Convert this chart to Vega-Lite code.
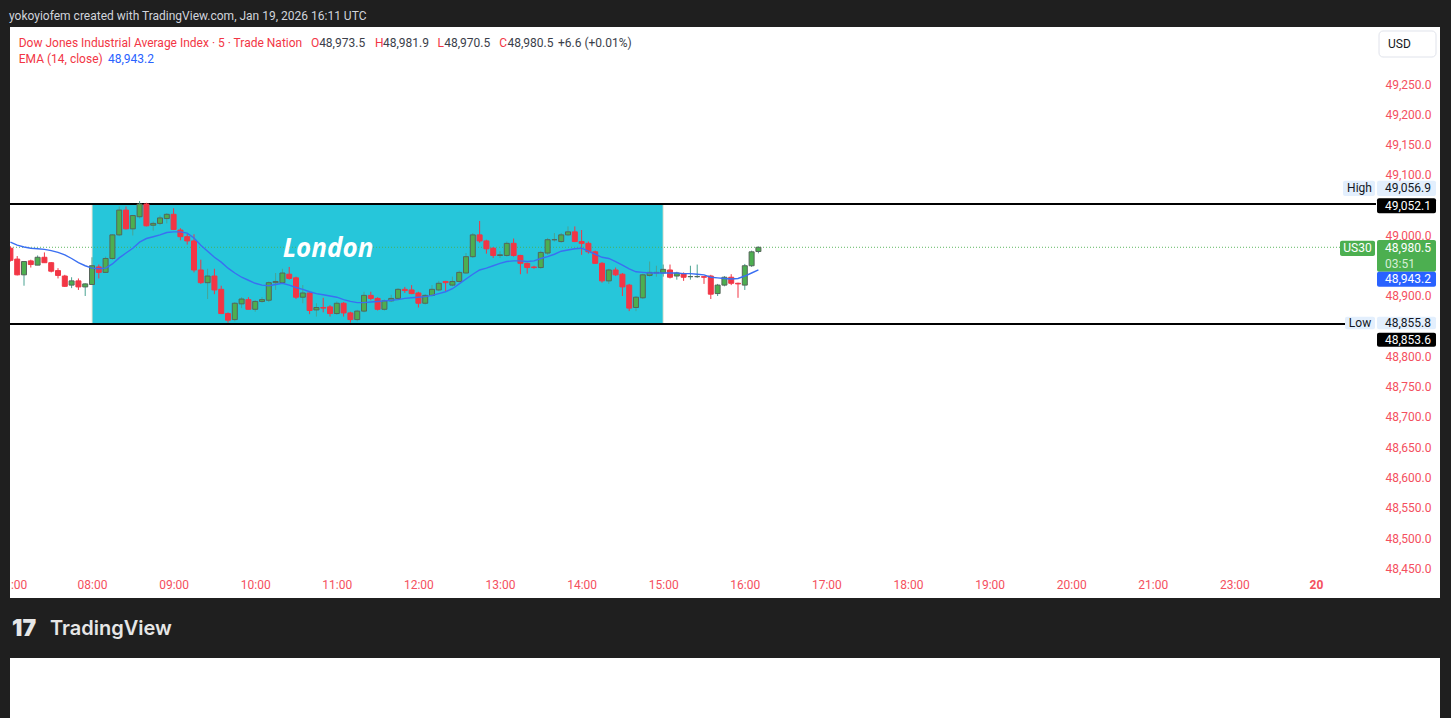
{
  "$schema": "https://vega.github.io/schema/vega-lite/v6.json",
  "autosize": {"type": "none"},
  "padding": {"left": 10, "top": 27, "right": 11, "bottom": 0},
  "background": "#1f1f1f",
  "width": 1430,
  "height": 691,
  "title": {"text": "yokoyiofem created with TradingView.com, Jan 19, 2026 16:11 UTC", "anchor": "start", "color": "#d1d4dc", "font": "Roboto", "fontSize": 12, "fontWeight": "normal", "offset": 4},
  "config": {"font": "Roboto", "axis": {"domain": false, "ticks": false, "grid": false, "labelFont": "Roboto", "labelFontSize": 12, "labelColor": "#f4505e"}},
  "view": {"fill": "white", "stroke": null},
  "datasets": {
    "bars": [
      {"t": "2026-01-19T07:00:00Z", "o": 48979, "h": 48982, "l": 48957, "c": 48959, "e": 48989},
      {"t": "2026-01-19T07:05:00Z", "o": 48961, "h": 48966, "l": 48934, "c": 48935, "e": 48984},
      {"t": "2026-01-19T07:10:00Z", "o": 48935, "h": 48957, "l": 48917, "c": 48957, "e": 48981},
      {"t": "2026-01-19T07:15:00Z", "o": 48958, "h": 48960, "l": 48947, "c": 48952, "e": 48979},
      {"t": "2026-01-19T07:20:00Z", "o": 48951, "h": 48967, "l": 48951, "c": 48964, "e": 48978},
      {"t": "2026-01-19T07:25:00Z", "o": 48964, "h": 48972, "l": 48955, "c": 48955, "e": 48977},
      {"t": "2026-01-19T07:30:00Z", "o": 48955, "h": 48956, "l": 48939, "c": 48941, "e": 48975},
      {"t": "2026-01-19T07:35:00Z", "o": 48942, "h": 48946, "l": 48929, "c": 48934, "e": 48972},
      {"t": "2026-01-19T07:40:00Z", "o": 48933, "h": 48935, "l": 48915, "c": 48916, "e": 48968},
      {"t": "2026-01-19T07:45:00Z", "o": 48918, "h": 48931, "l": 48913, "c": 48925, "e": 48962},
      {"t": "2026-01-19T07:50:00Z", "o": 48925, "h": 48929, "l": 48910, "c": 48915, "e": 48955},
      {"t": "2026-01-19T07:55:00Z", "o": 48915, "h": 48921, "l": 48900, "c": 48920, "e": 48950},
      {"t": "2026-01-19T08:00:00Z", "o": 48919, "h": 48964, "l": 48919, "c": 48950, "e": 48946},
      {"t": "2026-01-19T08:05:00Z", "o": 48948, "h": 48952, "l": 48929, "c": 48939, "e": 48945},
      {"t": "2026-01-19T08:10:00Z", "o": 48939, "h": 48965, "l": 48938, "c": 48962, "e": 48946},
      {"t": "2026-01-19T08:15:00Z", "o": 48962, "h": 49002, "l": 48960, "c": 49001, "e": 48953},
      {"t": "2026-01-19T08:20:00Z", "o": 49001, "h": 49048, "l": 48999, "c": 49042, "e": 48963},
      {"t": "2026-01-19T08:25:00Z", "o": 49042, "h": 49048, "l": 49010, "c": 49011, "e": 48971},
      {"t": "2026-01-19T08:30:00Z", "o": 49011, "h": 49034, "l": 49000, "c": 49033, "e": 48979},
      {"t": "2026-01-19T08:35:00Z", "o": 49031, "h": 49056.9, "l": 49028, "c": 49052, "e": 48989},
      {"t": "2026-01-19T08:40:00Z", "o": 49052, "h": 49054, "l": 49015, "c": 49016, "e": 48995},
      {"t": "2026-01-19T08:45:00Z", "o": 49017, "h": 49023, "l": 49008, "c": 49020, "e": 48998},
      {"t": "2026-01-19T08:50:00Z", "o": 49020, "h": 49033, "l": 49017, "c": 49029, "e": 49001},
      {"t": "2026-01-19T08:55:00Z", "o": 49028, "h": 49037, "l": 49020, "c": 49035, "e": 49005},
      {"t": "2026-01-19T09:00:00Z", "o": 49035, "h": 49045, "l": 49009, "c": 49010, "e": 49006},
      {"t": "2026-01-19T09:05:00Z", "o": 49009, "h": 49012, "l": 48992, "c": 48998, "e": 49006},
      {"t": "2026-01-19T09:10:00Z", "o": 48998, "h": 49003, "l": 48985, "c": 48991, "e": 49004},
      {"t": "2026-01-19T09:15:00Z", "o": 48991, "h": 49002, "l": 48939, "c": 48943, "e": 48996},
      {"t": "2026-01-19T09:20:00Z", "o": 48943, "h": 48960, "l": 48920, "c": 48922, "e": 48984},
      {"t": "2026-01-19T09:25:00Z", "o": 48922, "h": 48945, "l": 48895, "c": 48933, "e": 48974},
      {"t": "2026-01-19T09:30:00Z", "o": 48933, "h": 48945, "l": 48903, "c": 48910, "e": 48964},
      {"t": "2026-01-19T09:35:00Z", "o": 48911, "h": 48917, "l": 48870, "c": 48871, "e": 48956},
      {"t": "2026-01-19T09:40:00Z", "o": 48871, "h": 48873, "l": 48855.8, "c": 48860, "e": 48946},
      {"t": "2026-01-19T09:45:00Z", "o": 48861, "h": 48890, "l": 48858, "c": 48888, "e": 48938},
      {"t": "2026-01-19T09:50:00Z", "o": 48887, "h": 48898, "l": 48880, "c": 48895, "e": 48931},
      {"t": "2026-01-19T09:55:00Z", "o": 48894, "h": 48898, "l": 48878, "c": 48878, "e": 48926},
      {"t": "2026-01-19T10:00:00Z", "o": 48878, "h": 48893, "l": 48874, "c": 48891, "e": 48921},
      {"t": "2026-01-19T10:05:00Z", "o": 48891, "h": 48898, "l": 48889, "c": 48894, "e": 48918},
      {"t": "2026-01-19T10:10:00Z", "o": 48893, "h": 48924, "l": 48890, "c": 48922, "e": 48917},
      {"t": "2026-01-19T10:15:00Z", "o": 48922, "h": 48938, "l": 48910, "c": 48924, "e": 48919},
      {"t": "2026-01-19T10:20:00Z", "o": 48922, "h": 48945, "l": 48920, "c": 48938, "e": 48921},
      {"t": "2026-01-19T10:25:00Z", "o": 48936, "h": 48948, "l": 48927, "c": 48929, "e": 48918},
      {"t": "2026-01-19T10:30:00Z", "o": 48930, "h": 48932, "l": 48895, "c": 48898, "e": 48914},
      {"t": "2026-01-19T10:35:00Z", "o": 48898, "h": 48918, "l": 48888, "c": 48905, "e": 48911},
      {"t": "2026-01-19T10:40:00Z", "o": 48905, "h": 48907, "l": 48870, "c": 48876, "e": 48907},
      {"t": "2026-01-19T10:45:00Z", "o": 48877, "h": 48888, "l": 48866, "c": 48881, "e": 48904},
      {"t": "2026-01-19T10:50:00Z", "o": 48881, "h": 48897, "l": 48873, "c": 48880, "e": 48902},
      {"t": "2026-01-19T10:55:00Z", "o": 48882, "h": 48885, "l": 48866, "c": 48871, "e": 48900},
      {"t": "2026-01-19T11:00:00Z", "o": 48871, "h": 48891, "l": 48869, "c": 48888, "e": 48898},
      {"t": "2026-01-19T11:05:00Z", "o": 48888, "h": 48890, "l": 48866, "c": 48872, "e": 48894},
      {"t": "2026-01-19T11:10:00Z", "o": 48872, "h": 48874, "l": 48856, "c": 48861, "e": 48891},
      {"t": "2026-01-19T11:15:00Z", "o": 48861, "h": 48877, "l": 48858, "c": 48875, "e": 48889},
      {"t": "2026-01-19T11:20:00Z", "o": 48875, "h": 48907, "l": 48873, "c": 48901, "e": 48889},
      {"t": "2026-01-19T11:25:00Z", "o": 48901, "h": 48907, "l": 48893, "c": 48896, "e": 48890},
      {"t": "2026-01-19T11:30:00Z", "o": 48896, "h": 48898, "l": 48876, "c": 48878, "e": 48891},
      {"t": "2026-01-19T11:35:00Z", "o": 48878, "h": 48894, "l": 48876, "c": 48892, "e": 48892},
      {"t": "2026-01-19T11:40:00Z", "o": 48892, "h": 48902, "l": 48890, "c": 48896, "e": 48893},
      {"t": "2026-01-19T11:45:00Z", "o": 48896, "h": 48913, "l": 48894, "c": 48911, "e": 48894},
      {"t": "2026-01-19T11:50:00Z", "o": 48911, "h": 48915, "l": 48905, "c": 48909, "e": 48896},
      {"t": "2026-01-19T11:55:00Z", "o": 48910, "h": 48918, "l": 48903, "c": 48904, "e": 48897},
      {"t": "2026-01-19T12:00:00Z", "o": 48905, "h": 48907, "l": 48881, "c": 48888, "e": 48898},
      {"t": "2026-01-19T12:05:00Z", "o": 48888, "h": 48903, "l": 48886, "c": 48901, "e": 48899},
      {"t": "2026-01-19T12:10:00Z", "o": 48901, "h": 48918, "l": 48899, "c": 48911, "e": 48901},
      {"t": "2026-01-19T12:15:00Z", "o": 48910, "h": 48925, "l": 48908, "c": 48921, "e": 48904},
      {"t": "2026-01-19T12:20:00Z", "o": 48924, "h": 48925, "l": 48908, "c": 48922, "e": 48907},
      {"t": "2026-01-19T12:25:00Z", "o": 48918, "h": 48932, "l": 48916, "c": 48924, "e": 48912},
      {"t": "2026-01-19T12:30:00Z", "o": 48924, "h": 48942, "l": 48922, "c": 48939, "e": 48920},
      {"t": "2026-01-19T12:35:00Z", "o": 48938, "h": 48971, "l": 48937, "c": 48965, "e": 48928},
      {"t": "2026-01-19T12:40:00Z", "o": 48965, "h": 49004, "l": 48963, "c": 49001, "e": 48936},
      {"t": "2026-01-19T12:45:00Z", "o": 49001, "h": 49024, "l": 48988, "c": 48991, "e": 48943},
      {"t": "2026-01-19T12:50:00Z", "o": 48991, "h": 48993, "l": 48970, "c": 48978, "e": 48946},
      {"t": "2026-01-19T12:55:00Z", "o": 48979, "h": 48981, "l": 48963, "c": 48967, "e": 48950},
      {"t": "2026-01-19T13:00:00Z", "o": 48967, "h": 48974, "l": 48963, "c": 48968, "e": 48954},
      {"t": "2026-01-19T13:05:00Z", "o": 48967, "h": 48990, "l": 48965, "c": 48987, "e": 48957},
      {"t": "2026-01-19T13:10:00Z", "o": 48987, "h": 48995, "l": 48965, "c": 48967, "e": 48958},
      {"t": "2026-01-19T13:15:00Z", "o": 48967, "h": 48968, "l": 48936, "c": 48954, "e": 48958},
      {"t": "2026-01-19T13:20:00Z", "o": 48954, "h": 48955, "l": 48937, "c": 48947, "e": 48957},
      {"t": "2026-01-19T13:25:00Z", "o": 48948, "h": 48950, "l": 48945, "c": 48947, "e": 48958},
      {"t": "2026-01-19T13:30:00Z", "o": 48947, "h": 48975, "l": 48945, "c": 48972, "e": 48962},
      {"t": "2026-01-19T13:35:00Z", "o": 48971, "h": 48996, "l": 48968, "c": 48993, "e": 48965},
      {"t": "2026-01-19T13:40:00Z", "o": 48993, "h": 49004, "l": 48990, "c": 48993, "e": 48969},
      {"t": "2026-01-19T13:45:00Z", "o": 48990, "h": 49004, "l": 48988, "c": 49001, "e": 48974},
      {"t": "2026-01-19T13:50:00Z", "o": 49001, "h": 49015, "l": 48999, "c": 49006, "e": 48976},
      {"t": "2026-01-19T13:55:00Z", "o": 49006, "h": 49015, "l": 48989, "c": 48990, "e": 48978},
      {"t": "2026-01-19T14:00:00Z", "o": 48990, "h": 49009, "l": 48968, "c": 48987, "e": 48979},
      {"t": "2026-01-19T14:05:00Z", "o": 48987, "h": 48990, "l": 48970, "c": 48973, "e": 48974},
      {"t": "2026-01-19T14:10:00Z", "o": 48973, "h": 48975, "l": 48953, "c": 48954, "e": 48969},
      {"t": "2026-01-19T14:15:00Z", "o": 48954, "h": 48956, "l": 48922, "c": 48925, "e": 48964},
      {"t": "2026-01-19T14:20:00Z", "o": 48925, "h": 48945, "l": 48920, "c": 48943, "e": 48962},
      {"t": "2026-01-19T14:25:00Z", "o": 48943, "h": 48947, "l": 48933, "c": 48935, "e": 48957},
      {"t": "2026-01-19T14:30:00Z", "o": 48936, "h": 48938, "l": 48900, "c": 48915, "e": 48951},
      {"t": "2026-01-19T14:35:00Z", "o": 48918, "h": 48920, "l": 48875, "c": 48880, "e": 48945},
      {"t": "2026-01-19T14:40:00Z", "o": 48881, "h": 48900, "l": 48875, "c": 48898, "e": 48940},
      {"t": "2026-01-19T14:45:00Z", "o": 48897, "h": 48937, "l": 48895, "c": 48935, "e": 48939},
      {"t": "2026-01-19T14:50:00Z", "o": 48934, "h": 48957, "l": 48932, "c": 48939, "e": 48938},
      {"t": "2026-01-19T14:55:00Z", "o": 48938, "h": 48950, "l": 48932, "c": 48939, "e": 48938},
      {"t": "2026-01-19T15:00:00Z", "o": 48938, "h": 48952, "l": 48932, "c": 48944, "e": 48938},
      {"t": "2026-01-19T15:05:00Z", "o": 48943, "h": 48952, "l": 48929, "c": 48931, "e": 48938},
      {"t": "2026-01-19T15:10:00Z", "o": 48933, "h": 48940, "l": 48927, "c": 48938, "e": 48938},
      {"t": "2026-01-19T15:15:00Z", "o": 48937, "h": 48939, "l": 48925, "c": 48931, "e": 48937},
      {"t": "2026-01-19T15:20:00Z", "o": 48932, "h": 48950, "l": 48927, "c": 48932, "e": 48937},
      {"t": "2026-01-19T15:25:00Z", "o": 48932, "h": 48952, "l": 48930, "c": 48932, "e": 48936},
      {"t": "2026-01-19T15:30:00Z", "o": 48932, "h": 48933, "l": 48920, "c": 48931, "e": 48935},
      {"t": "2026-01-19T15:35:00Z", "o": 48933, "h": 48935, "l": 48895, "c": 48903, "e": 48931},
      {"t": "2026-01-19T15:40:00Z", "o": 48904, "h": 48920, "l": 48900, "c": 48918, "e": 48930},
      {"t": "2026-01-19T15:45:00Z", "o": 48918, "h": 48933, "l": 48916, "c": 48931, "e": 48929},
      {"t": "2026-01-19T15:50:00Z", "o": 48931, "h": 48936, "l": 48918, "c": 48921, "e": 48928},
      {"t": "2026-01-19T15:55:00Z", "o": 48921, "h": 48922, "l": 48897, "c": 48920, "e": 48929},
      {"t": "2026-01-19T16:00:00Z", "o": 48918, "h": 48953, "l": 48910, "c": 48950, "e": 48933},
      {"t": "2026-01-19T16:05:00Z", "o": 48950, "h": 48975, "l": 48948, "c": 48973, "e": 48938},
      {"t": "2026-01-19T16:10:00Z", "o": 48973.5, "h": 48981.9, "l": 48970.5, "c": 48980.5, "e": 48943.2}
    ]
  },
  "data": {"values": [{}]},
  "layer": [
    {
      "mark": {"type": "rect", "color": "#1f1f1f"},
      "encoding": {
        "x": {"datum": {"year": 2026, "month": 1, "date": 19, "hours": 6, "minutes": 59, "seconds": 42, "utc": true}, "type": "temporal", "scale": {"type": "utc"}},
        "x2": {"datum": {"year": 2026, "month": 1, "date": 20, "hours": 0, "minutes": 31, "seconds": 10, "utc": true}},
        "y": {"datum": 48400.8, "type": "quantitative"},
        "y2": {"datum": 48301.6}
      }
    },
    {
      "mark": {"type": "rect", "color": "#26c6da", "stroke": "#f3e6d3", "strokeWidth": 1},
      "encoding": {
        "x": {"datum": {"year": 2026, "month": 1, "date": 19, "hours": 8, "minutes": 0, "seconds": 0, "utc": true}, "type": "temporal", "scale": {"type": "utc"}},
        "x2": {"datum": {"year": 2026, "month": 1, "date": 19, "hours": 15, "minutes": 0, "seconds": 0, "utc": true}},
        "y": {"datum": 49052.1, "type": "quantitative"},
        "y2": {"datum": 48853.6}
      }
    },
    {
      "mark": {"type": "rule", "color": "#000000", "strokeWidth": 2},
      "encoding": {
        "x": {"datum": {"year": 2026, "month": 1, "date": 19, "hours": 6, "minutes": 59, "seconds": 42, "utc": true}, "type": "temporal", "scale": {"type": "utc"}},
        "x2": {"datum": {"year": 2026, "month": 1, "date": 19, "hours": 23, "minutes": 44, "seconds": 6, "utc": true}},
        "y": {"datum": 49052.1, "type": "quantitative"}
      }
    },
    {
      "mark": {"type": "rule", "color": "#000000", "strokeWidth": 2},
      "encoding": {
        "x": {"datum": {"year": 2026, "month": 1, "date": 19, "hours": 6, "minutes": 59, "seconds": 42, "utc": true}, "type": "temporal", "scale": {"type": "utc"}},
        "x2": {"datum": {"year": 2026, "month": 1, "date": 19, "hours": 23, "minutes": 21, "seconds": 19, "utc": true}},
        "y": {"datum": 48853.6, "type": "quantitative"}
      }
    },
    {
      "mark": {"type": "rule", "color": "#4caf50", "strokeWidth": 1, "strokeDash": [1, 2], "opacity": 0.9},
      "encoding": {
        "x": {"datum": {"year": 2026, "month": 1, "date": 19, "hours": 6, "minutes": 59, "seconds": 42, "utc": true}, "type": "temporal", "scale": {"type": "utc"}},
        "x2": {"datum": {"year": 2026, "month": 1, "date": 19, "hours": 23, "minutes": 17, "seconds": 39, "utc": true}},
        "y": {"datum": 48980.5, "type": "quantitative"}
      }
    },
    {
      "data": {"name": "bars"},
      "mark": {"type": "rule", "strokeWidth": 1, "clip": true},
      "encoding": {
        "x": {
          "field": "t", "type": "temporal", "title": null,
          "scale": {"type": "utc", "nice": false, "padding": 0, "domain": [
            {"year": 2026, "month": 1, "date": 19, "hours": 6, "minutes": 59, "seconds": 42, "utc": true},
            {"year": 2026, "month": 1, "date": 20, "hours": 0, "minutes": 31, "seconds": 10, "utc": true}
          ]},
          "axis": {
            "orient": "bottom", "offset": -148, "domain": false, "ticks": false, "grid": false, "title": null,
            "values": [
              {"year": 2026, "month": 1, "date": 19, "hours": 7, "utc": true},
              {"year": 2026, "month": 1, "date": 19, "hours": 8, "utc": true},
              {"year": 2026, "month": 1, "date": 19, "hours": 9, "utc": true},
              {"year": 2026, "month": 1, "date": 19, "hours": 10, "utc": true},
              {"year": 2026, "month": 1, "date": 19, "hours": 11, "utc": true},
              {"year": 2026, "month": 1, "date": 19, "hours": 12, "utc": true},
              {"year": 2026, "month": 1, "date": 19, "hours": 13, "utc": true},
              {"year": 2026, "month": 1, "date": 19, "hours": 14, "utc": true},
              {"year": 2026, "month": 1, "date": 19, "hours": 15, "utc": true},
              {"year": 2026, "month": 1, "date": 19, "hours": 16, "utc": true},
              {"year": 2026, "month": 1, "date": 19, "hours": 17, "utc": true},
              {"year": 2026, "month": 1, "date": 19, "hours": 18, "utc": true},
              {"year": 2026, "month": 1, "date": 19, "hours": 19, "utc": true},
              {"year": 2026, "month": 1, "date": 19, "hours": 20, "utc": true},
              {"year": 2026, "month": 1, "date": 19, "hours": 21, "utc": true},
              {"year": 2026, "month": 1, "date": 19, "hours": 22, "utc": true},
              {"year": 2026, "month": 1, "date": 19, "hours": 23, "utc": true}
            ],
            "labelExpr": "utchours(datum.value) == 22 ? '23:00' : utchours(datum.value) == 23 ? '20' : utchours(datum.value) == 7 ? ':00' : utcFormat(datum.value, '%H:%M')",
            "labelAlign": {"condition": {"test": "utchours(datum.value) == 7", "value": "left"}, "value": "center"},
            "labelFontWeight": {"condition": {"test": "utchours(datum.value) == 23", "value": "bold"}, "value": "normal"},
            "labelPadding": 9, "labelFlush": false, "labelOverlap": false, "labelBound": false,
            "labelColor": "#f4505e", "labelFont": "Roboto", "labelFontSize": 12
          }
        },
        "y": {
          "field": "l", "type": "quantitative", "title": null,
          "scale": {"domain": [48202.5, 49344.6], "nice": false, "zero": false},
          "axis": {
            "orient": "right", "offset": -65, "domain": false, "ticks": false, "grid": false, "title": null,
            "values": [48450, 48500, 48550, 48600, 48650, 48700, 48750, 48800, 48900, 49000, 49100, 49150, 49200, 49250],
            "format": ",.1f", "labelAlign": "right", "labelPadding": 56, "labelOverlap": false, "labelBound": false, "labelFlush": false,
            "labelColor": "#f4505e", "labelFont": "Roboto", "labelFontSize": 12
          }
        },
        "y2": {"field": "h"},
        "color": {"condition": {"test": "datum.c >= datum.o", "value": "#4aa392"}, "value": "#f23645"}
      }
    },
    {
      "data": {"name": "bars"},
      "mark": {"type": "bar", "width": 5, "strokeWidth": 1, "clip": true},
      "encoding": {
        "x": {"field": "t", "type": "temporal", "scale": {"type": "utc"}},
        "y": {"field": "o", "type": "quantitative"},
        "y2": {"field": "c"},
        "fill": {"condition": {"test": "datum.c >= datum.o", "value": "#4caf50"}, "value": "#f23645"},
        "stroke": {"condition": {"test": "datum.c >= datum.o", "value": "#56665a"}, "value": "#f23645"}
      }
    },
    {
      "data": {"name": "bars"},
      "mark": {"type": "line", "color": "#3a6ff2", "strokeWidth": 1.4, "clip": true},
      "encoding": {
        "x": {"field": "t", "type": "temporal", "scale": {"type": "utc"}},
        "y": {"field": "e", "type": "quantitative"}
      }
    },
    {
      "mark": {"type": "text", "text": "London", "font": "Open Sans", "fontSize": 26, "fontWeight": "bold", "fontStyle": "italic", "color": "#ffffff", "align": "center", "baseline": "middle"},
      "encoding": {
        "x": {"datum": {"year": 2026, "month": 1, "date": 19, "hours": 10, "minutes": 53, "seconds": 32, "utc": true}, "type": "temporal", "scale": {"type": "utc"}},
        "y": {"datum": 48977.7, "type": "quantitative"}
      }
    },
    {
      "mark": {"type": "text", "text": "Dow Jones Industrial Average Index · 5 · Trade Nation", "font": "Roboto", "fontSize": 12, "color": "#f23645", "align": "left", "baseline": "middle"},
      "encoding": {
        "x": {"datum": {"year": 2026, "month": 1, "date": 19, "hours": 7, "minutes": 6, "seconds": 8, "utc": true}, "type": "temporal", "scale": {"type": "utc"}},
        "y": {"datum": 49318.2, "type": "quantitative"}
      }
    },
    {
      "mark": {"type": "text", "text": "O", "font": "Roboto", "fontSize": 12, "color": "#f23645", "align": "left", "baseline": "middle"},
      "encoding": {
        "x": {"datum": {"year": 2026, "month": 1, "date": 19, "hours": 10, "minutes": 41, "seconds": 0, "utc": true}, "type": "temporal", "scale": {"type": "utc"}},
        "y": {"datum": 49318.2, "type": "quantitative"}
      }
    },
    {
      "mark": {"type": "text", "text": "48,973.5", "font": "Roboto", "fontSize": 12, "color": "#3a3e4a", "align": "left", "baseline": "middle"},
      "encoding": {
        "x": {"datum": {"year": 2026, "month": 1, "date": 19, "hours": 10, "minutes": 47, "seconds": 0, "utc": true}, "type": "temporal", "scale": {"type": "utc"}},
        "y": {"datum": 49318.2, "type": "quantitative"}
      }
    },
    {
      "mark": {"type": "text", "text": "H", "font": "Roboto", "fontSize": 12, "color": "#f23645", "align": "left", "baseline": "middle"},
      "encoding": {
        "x": {"datum": {"year": 2026, "month": 1, "date": 19, "hours": 11, "minutes": 28, "seconds": 5, "utc": true}, "type": "temporal", "scale": {"type": "utc"}},
        "y": {"datum": 49318.2, "type": "quantitative"}
      }
    },
    {
      "mark": {"type": "text", "text": "48,981.9", "font": "Roboto", "fontSize": 12, "color": "#3a3e4a", "align": "left", "baseline": "middle"},
      "encoding": {
        "x": {"datum": {"year": 2026, "month": 1, "date": 19, "hours": 11, "minutes": 33, "seconds": 58, "utc": true}, "type": "temporal", "scale": {"type": "utc"}},
        "y": {"datum": 49318.2, "type": "quantitative"}
      }
    },
    {
      "mark": {"type": "text", "text": "L", "font": "Roboto", "fontSize": 12, "color": "#f23645", "align": "left", "baseline": "middle"},
      "encoding": {
        "x": {"datum": {"year": 2026, "month": 1, "date": 19, "hours": 12, "minutes": 14, "seconds": 0, "utc": true}, "type": "temporal", "scale": {"type": "utc"}},
        "y": {"datum": 49318.2, "type": "quantitative"}
      }
    },
    {
      "mark": {"type": "text", "text": "48,970.5", "font": "Roboto", "fontSize": 12, "color": "#3a3e4a", "align": "left", "baseline": "middle"},
      "encoding": {
        "x": {"datum": {"year": 2026, "month": 1, "date": 19, "hours": 12, "minutes": 19, "seconds": 0, "utc": true}, "type": "temporal", "scale": {"type": "utc"}},
        "y": {"datum": 49318.2, "type": "quantitative"}
      }
    },
    {
      "mark": {"type": "text", "text": "C", "font": "Roboto", "fontSize": 12, "color": "#f23645", "align": "left", "baseline": "middle"},
      "encoding": {
        "x": {"datum": {"year": 2026, "month": 1, "date": 19, "hours": 12, "minutes": 59, "seconds": 30, "utc": true}, "type": "temporal", "scale": {"type": "utc"}},
        "y": {"datum": 49318.2, "type": "quantitative"}
      }
    },
    {
      "mark": {"type": "text", "text": "48,980.5", "font": "Roboto", "fontSize": 12, "color": "#3a3e4a", "align": "left", "baseline": "middle"},
      "encoding": {
        "x": {"datum": {"year": 2026, "month": 1, "date": 19, "hours": 13, "minutes": 5, "seconds": 30, "utc": true}, "type": "temporal", "scale": {"type": "utc"}},
        "y": {"datum": 49318.2, "type": "quantitative"}
      }
    },
    {
      "mark": {"type": "text", "text": "+6.6 (+0.01%)", "font": "Roboto", "fontSize": 12, "color": "#3a3e4a", "align": "left", "baseline": "middle"},
      "encoding": {
        "x": {"datum": {"year": 2026, "month": 1, "date": 19, "hours": 13, "minutes": 42, "seconds": 39, "utc": true}, "type": "temporal", "scale": {"type": "utc"}},
        "y": {"datum": 49318.2, "type": "quantitative"}
      }
    },
    {
      "mark": {"type": "text", "text": "EMA (14, close)", "font": "Roboto", "fontSize": 12, "color": "#f23645", "align": "left", "baseline": "middle"},
      "encoding": {
        "x": {"datum": {"year": 2026, "month": 1, "date": 19, "hours": 7, "minutes": 6, "seconds": 8, "utc": true}, "type": "temporal", "scale": {"type": "utc"}},
        "y": {"datum": 49291.7, "type": "quantitative"}
      }
    },
    {
      "mark": {"type": "text", "text": "48,943.2", "font": "Roboto", "fontSize": 12, "color": "#2962ff", "align": "left", "baseline": "middle"},
      "encoding": {
        "x": {"datum": {"year": 2026, "month": 1, "date": 19, "hours": 8, "minutes": 11, "seconds": 46, "utc": true}, "type": "temporal", "scale": {"type": "utc"}},
        "y": {"datum": 49291.7, "type": "quantitative"}
      }
    },
    {
      "mark": {"type": "text", "text": "17", "font": "Inter", "fontSize": 23, "fontWeight": 900, "color": "#e6e6e6", "align": "left", "baseline": "middle"},
      "encoding": {
        "x": {"datum": {"year": 2026, "month": 1, "date": 19, "hours": 7, "minutes": 1, "seconds": 11, "utc": true}, "type": "temporal", "scale": {"type": "utc"}},
        "y": {"datum": 48349.6, "type": "quantitative"}
      }
    },
    {
      "mark": {"type": "text", "text": "TradingView", "font": "Inter", "fontSize": 20, "fontWeight": 600, "color": "#e6e6e6", "align": "left", "baseline": "middle"},
      "encoding": {
        "x": {"datum": {"year": 2026, "month": 1, "date": 19, "hours": 7, "minutes": 29, "seconds": 7, "utc": true}, "type": "temporal", "scale": {"type": "utc"}},
        "y": {"datum": 48349.6, "type": "quantitative"}
      }
    },
    {
      "mark": {"type": "rect", "color": "#ffffff", "stroke": "#e0e3eb", "strokeWidth": 1, "cornerRadius": 4},
      "encoding": {
        "x": {"datum": {"year": 2026, "month": 1, "date": 19, "hours": 23, "minutes": 46, "seconds": 20, "utc": true}, "type": "temporal", "scale": {"type": "utc"}},
        "x2": {"datum": {"year": 2026, "month": 1, "date": 20, "hours": 0, "minutes": 28, "seconds": 14, "utc": true}},
        "y": {"datum": 49338, "type": "quantitative"},
        "y2": {"datum": 49295}
      }
    },
    {
      "mark": {"type": "text", "text": "USD", "font": "Roboto", "fontSize": 12, "color": "#131722", "align": "left", "baseline": "middle"},
      "encoding": {
        "x": {"datum": {"year": 2026, "month": 1, "date": 19, "hours": 23, "minutes": 53, "seconds": 0, "utc": true}, "type": "temporal", "scale": {"type": "utc"}},
        "y": {"datum": 49316.5, "type": "quantitative"}
      }
    },
    {
      "mark": {"type": "rect", "color": "#e3effd", "cornerRadius": 2},
      "encoding": {
        "x": {"datum": {"year": 2026, "month": 1, "date": 19, "hours": 23, "minutes": 19, "seconds": 51, "utc": true}, "type": "temporal", "scale": {"type": "utc"}},
        "x2": {"datum": {"year": 2026, "month": 1, "date": 19, "hours": 23, "minutes": 43, "seconds": 23, "utc": true}},
        "y": {"datum": 49090.6, "type": "quantitative"},
        "y2": {"datum": 49065.3}
      }
    },
    {
      "mark": {"type": "rect", "color": "#e3effd", "cornerRadius": 2},
      "encoding": {
        "x": {"datum": {"year": 2026, "month": 1, "date": 19, "hours": 23, "minutes": 44, "seconds": 51, "utc": true}, "type": "temporal", "scale": {"type": "utc"}},
        "x2": {"datum": {"year": 2026, "month": 1, "date": 20, "hours": 0, "minutes": 28, "seconds": 14, "utc": true}},
        "y": {"datum": 49090.6, "type": "quantitative"},
        "y2": {"datum": 49065.3}
      }
    },
    {
      "mark": {"type": "rect", "color": "#000000", "cornerRadius": 2},
      "encoding": {
        "x": {"datum": {"year": 2026, "month": 1, "date": 19, "hours": 23, "minutes": 44, "seconds": 51, "utc": true}, "type": "temporal", "scale": {"type": "utc"}},
        "x2": {"datum": {"year": 2026, "month": 1, "date": 20, "hours": 0, "minutes": 28, "seconds": 14, "utc": true}},
        "y": {"datum": 49061.5, "type": "quantitative"},
        "y2": {"datum": 49036.7}
      }
    },
    {
      "mark": {"type": "rect", "color": "#4caf50", "cornerRadius": 2},
      "encoding": {
        "x": {"datum": {"year": 2026, "month": 1, "date": 19, "hours": 23, "minutes": 17, "seconds": 39, "utc": true}, "type": "temporal", "scale": {"type": "utc"}},
        "x2": {"datum": {"year": 2026, "month": 1, "date": 19, "hours": 23, "minutes": 43, "seconds": 23, "utc": true}},
        "y": {"datum": 48991.4, "type": "quantitative"},
        "y2": {"datum": 48966.1}
      }
    },
    {
      "mark": {"type": "rect", "color": "#4caf50", "cornerRadius": 2},
      "encoding": {
        "x": {"datum": {"year": 2026, "month": 1, "date": 19, "hours": 23, "minutes": 44, "seconds": 51, "utc": true}, "type": "temporal", "scale": {"type": "utc"}},
        "x2": {"datum": {"year": 2026, "month": 1, "date": 20, "hours": 0, "minutes": 28, "seconds": 14, "utc": true}},
        "y": {"datum": 48992.6, "type": "quantitative"},
        "y2": {"datum": 48940.2}
      }
    },
    {
      "mark": {"type": "rect", "color": "#2962ff", "cornerRadius": 2},
      "encoding": {
        "x": {"datum": {"year": 2026, "month": 1, "date": 19, "hours": 23, "minutes": 44, "seconds": 51, "utc": true}, "type": "temporal", "scale": {"type": "utc"}},
        "x2": {"datum": {"year": 2026, "month": 1, "date": 20, "hours": 0, "minutes": 28, "seconds": 14, "utc": true}},
        "y": {"datum": 48940.2, "type": "quantitative"},
        "y2": {"datum": 48915.4}
      }
    },
    {
      "mark": {"type": "rect", "color": "#e3effd", "cornerRadius": 2},
      "encoding": {
        "x": {"datum": {"year": 2026, "month": 1, "date": 19, "hours": 23, "minutes": 21, "seconds": 19, "utc": true}, "type": "temporal", "scale": {"type": "utc"}},
        "x2": {"datum": {"year": 2026, "month": 1, "date": 19, "hours": 23, "minutes": 43, "seconds": 23, "utc": true}},
        "y": {"datum": 48865.8, "type": "quantitative"},
        "y2": {"datum": 48845.0}
      }
    },
    {
      "mark": {"type": "rect", "color": "#e3effd", "cornerRadius": 2},
      "encoding": {
        "x": {"datum": {"year": 2026, "month": 1, "date": 19, "hours": 23, "minutes": 44, "seconds": 51, "utc": true}, "type": "temporal", "scale": {"type": "utc"}},
        "x2": {"datum": {"year": 2026, "month": 1, "date": 20, "hours": 0, "minutes": 28, "seconds": 14, "utc": true}},
        "y": {"datum": 48865.8, "type": "quantitative"},
        "y2": {"datum": 48845.0}
      }
    },
    {
      "mark": {"type": "rect", "color": "#000000", "cornerRadius": 2},
      "encoding": {
        "x": {"datum": {"year": 2026, "month": 1, "date": 19, "hours": 23, "minutes": 44, "seconds": 51, "utc": true}, "type": "temporal", "scale": {"type": "utc"}},
        "x2": {"datum": {"year": 2026, "month": 1, "date": 20, "hours": 0, "minutes": 28, "seconds": 14, "utc": true}},
        "y": {"datum": 48839.3, "type": "quantitative"},
        "y2": {"datum": 48816.2}
      }
    },
    {
      "mark": {"type": "text", "text": "High", "font": "Roboto", "fontSize": 12, "color": "#131722", "align": "center", "baseline": "middle"},
      "encoding": {
        "x": {"datum": {"year": 2026, "month": 1, "date": 19, "hours": 23, "minutes": 31, "seconds": 59, "utc": true}, "type": "temporal", "scale": {"type": "utc"}},
        "y": {"datum": 49078, "type": "quantitative"}
      }
    },
    {
      "mark": {"type": "text", "text": "49,056.9", "font": "Roboto", "fontSize": 12, "color": "#131722", "align": "left", "baseline": "middle"},
      "encoding": {
        "x": {"datum": {"year": 2026, "month": 1, "date": 19, "hours": 23, "minutes": 50, "seconds": 44, "utc": true}, "type": "temporal", "scale": {"type": "utc"}},
        "y": {"datum": 49078, "type": "quantitative"}
      }
    },
    {
      "mark": {"type": "text", "text": "49,052.1", "font": "Roboto", "fontSize": 12, "color": "#ffffff", "align": "left", "baseline": "middle"},
      "encoding": {
        "x": {"datum": {"year": 2026, "month": 1, "date": 19, "hours": 23, "minutes": 50, "seconds": 44, "utc": true}, "type": "temporal", "scale": {"type": "utc"}},
        "y": {"datum": 49049, "type": "quantitative"}
      }
    },
    {
      "mark": {"type": "text", "text": "US30", "font": "Roboto", "fontSize": 12, "color": "#ffffff", "align": "center", "baseline": "middle"},
      "encoding": {
        "x": {"datum": {"year": 2026, "month": 1, "date": 19, "hours": 23, "minutes": 30, "seconds": 31, "utc": true}, "type": "temporal", "scale": {"type": "utc"}},
        "y": {"datum": 48978.8, "type": "quantitative"}
      }
    },
    {
      "mark": {"type": "text", "text": "48,980.5", "font": "Roboto", "fontSize": 12, "color": "#ffffff", "align": "left", "baseline": "middle"},
      "encoding": {
        "x": {"datum": {"year": 2026, "month": 1, "date": 19, "hours": 23, "minutes": 50, "seconds": 44, "utc": true}, "type": "temporal", "scale": {"type": "utc"}},
        "y": {"datum": 48978.8, "type": "quantitative"}
      }
    },
    {
      "mark": {"type": "text", "text": "03:51", "font": "Roboto", "fontSize": 12, "color": "#d6eed7", "align": "left", "baseline": "middle"},
      "encoding": {
        "x": {"datum": {"year": 2026, "month": 1, "date": 19, "hours": 23, "minutes": 50, "seconds": 44, "utc": true}, "type": "temporal", "scale": {"type": "utc"}},
        "y": {"datum": 48953.7, "type": "quantitative"}
      }
    },
    {
      "mark": {"type": "text", "text": "48,943.2", "font": "Roboto", "fontSize": 12, "color": "#ffffff", "align": "left", "baseline": "middle"},
      "encoding": {
        "x": {"datum": {"year": 2026, "month": 1, "date": 19, "hours": 23, "minutes": 50, "seconds": 44, "utc": true}, "type": "temporal", "scale": {"type": "utc"}},
        "y": {"datum": 48927.8, "type": "quantitative"}
      }
    },
    {
      "mark": {"type": "text", "text": "Low", "font": "Roboto", "fontSize": 12, "color": "#131722", "align": "center", "baseline": "middle"},
      "encoding": {
        "x": {"datum": {"year": 2026, "month": 1, "date": 19, "hours": 23, "minutes": 32, "seconds": 21, "utc": true}, "type": "temporal", "scale": {"type": "utc"}},
        "y": {"datum": 48855.4, "type": "quantitative"}
      }
    },
    {
      "mark": {"type": "text", "text": "48,855.8", "font": "Roboto", "fontSize": 12, "color": "#131722", "align": "left", "baseline": "middle"},
      "encoding": {
        "x": {"datum": {"year": 2026, "month": 1, "date": 19, "hours": 23, "minutes": 50, "seconds": 44, "utc": true}, "type": "temporal", "scale": {"type": "utc"}},
        "y": {"datum": 48855.4, "type": "quantitative"}
      }
    },
    {
      "mark": {"type": "text", "text": "48,853.6", "font": "Roboto", "fontSize": 12, "color": "#ffffff", "align": "left", "baseline": "middle"},
      "encoding": {
        "x": {"datum": {"year": 2026, "month": 1, "date": 19, "hours": 23, "minutes": 50, "seconds": 44, "utc": true}, "type": "temporal", "scale": {"type": "utc"}},
        "y": {"datum": 48827.8, "type": "quantitative"}
      }
    }
  ]
}
